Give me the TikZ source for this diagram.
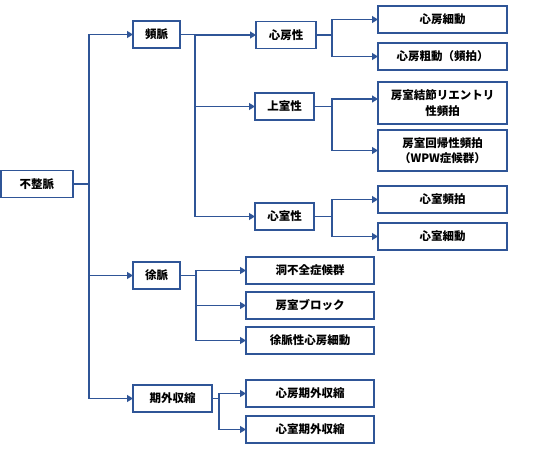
\documentclass[tikz,border=0pt]{standalone}
\usepackage{fontspec}
\setmainfont{Noto Sans CJK JP}
\usetikzlibrary{arrows.meta, positioning}
\definecolor{linkblue}{HTML}{2F5597}
\tikzset{
  catbox/.style={
    rectangle, draw=linkblue, line width=1.2pt, fill=white,
    minimum width=#1, minimum height=27pt,
    inner sep=0pt, outer sep=0pt, align=center,
    font=\fontsize{11.5}{15.5}\selectfont\bfseries, text=black
  },
  catbox/.default=47pt,
  linkarrow/.style={-{Triangle[length=6pt,width=7pt]}, draw=linkblue, line width=1.2pt},
}
\begin{document}
\begin{tikzpicture}[x=1pt,y=-1pt]
  \useasboundingbox (0,0) rectangle (533,468);
  % first level
  \node[catbox=72pt] (arr) at (37,184) {不整脈};
  \node[catbox] (tachy) at (156.5,34.5) {頻脈};
  \node[catbox] (brady) at (156.5,275.5) {徐脈};
  \node[catbox=79pt] (extra) at (172.5,398.5) {期外収縮};
  % tachycardia
  \node[catbox=60pt] (atr) at (286,35) {心房性};
  \node[catbox=59pt] (supra) at (284.5,106.5) {上室性};
  \node[catbox=59pt] (vent) at (284.5,216.5) {心室性};
  \node[catbox=129pt] (af) at (442.5,19.5) {心房細動};
  \node[catbox=129pt,below=10pt of af] (afl) {心房粗動（頻拍）};
  \node[catbox=129pt,minimum height=42pt,below=12pt of afl] (avnrt)
       {房室結節リエントリ\\性頻拍};
  \node[catbox=129pt,minimum height=41pt,below=6pt of avnrt] (avrt)
       {房室回帰性頻拍\\（WPW症候群）};
  \node[catbox=129pt,below=15pt of avrt] (vt) {心室頻拍};
  \node[catbox=129pt,below=10pt of vt] (vf) {心室細動};
  % bradycardia and extrasystole
  \node[catbox=128pt] (sss) at (310,270.5) {洞不全症候群};
  \node[catbox=128pt,below=8pt of sss] (avb) {房室ブロック};
  \node[catbox=128pt,below=8pt of avb] (bradyaf) {徐脈性心房細動};
  \node[catbox=128pt] (pac) at (310,393.5) {心房期外収縮};
  \node[catbox=128pt,below=9pt of pac] (pvc) {心室期外収縮};
  % connectors
  \draw[linkarrow] (arr.east) -- ++(16,0) |- (tachy.west);
  \draw[linkarrow] (arr.east) -- ++(16,0) |- (brady.west);
  \draw[linkarrow] (arr.east) -- ++(16,0) |- (extra.west);
  \draw[linkarrow] (tachy.east) -- ++(15,0) |- (atr.west);
  \draw[linkarrow] (tachy.east) -- ++(15,0) |- (supra.west);
  \draw[linkarrow] (tachy.east) -- ++(15,0) |- (vent.west);
  \draw[linkarrow] (atr.east) -- ++(16,0) |- (af.west);
  \draw[linkarrow] (atr.east) -- ++(16,0) |- (afl.west);
  \draw[linkarrow] (supra.east) -- ++(18,0) |- ([yshift=4pt]avnrt.west);
  \draw[linkarrow] (supra.east) -- ++(18,0) |- (avrt.west);
  \draw[linkarrow] (vent.east) -- ++(18,0) |- (vt.west);
  \draw[linkarrow] (vent.east) -- ++(18,0) |- (vf.west);
  \draw[linkarrow] (brady.east) -- ++(16,0) |- (sss.west);
  \draw[linkarrow] (brady.east) -- ++(16,0) |- (avb.west);
  \draw[linkarrow] (brady.east) -- ++(16,0) |- (bradyaf.west);
  \draw[linkarrow] (extra.east) -- ++(7,0) |- (pac.west);
  \draw[linkarrow] (extra.east) -- ++(7,0) |- (pvc.west);
\end{tikzpicture}
\end{document}
